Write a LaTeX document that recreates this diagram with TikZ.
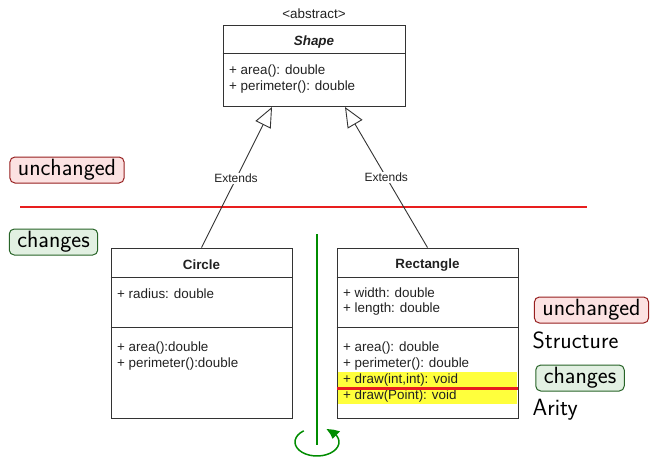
\documentclass[tikz,border=0pt]{standalone}
\usepackage{fontspec}
\setmainfont{Liberation Sans}
\usetikzlibrary{arrows.meta,bending}
\definecolor{umlline}{rgb}{0.2,0.2,0.2}
\definecolor{umltext}{rgb}{0.13,0.13,0.13}
\definecolor{tagRfill}{RGB}{252,226,226}
\definecolor{tagRdraw}{RGB}{150,30,30}
\definecolor{tagGfill}{RGB}{226,240,226}
\definecolor{tagGdraw}{RGB}{40,100,40}
\definecolor{hl}{RGB}{255,255,60}
\definecolor{redline}{RGB}{232,30,30}
\definecolor{grn}{RGB}{0,140,0}
\begin{document}
\begin{tikzpicture}[x=1pt,y=1pt,
  umlbox/.style={draw=umlline, line width=0.9pt, inner sep=0pt, fill=none},
  sep/.style={draw=umlline, line width=0.9pt},
  member/.style={anchor=west, inner sep=0pt, text=umltext, font=\fontsize{13.4}{16}\selectfont},
  title/.style={inner sep=0pt, text=umltext, font=\fontsize{13.4}{16}\selectfont\bfseries},
  ext/.style={draw=umlline, line width=0.9pt, -{Triangle[open, length=20pt, width=17pt]}},
  extlbl/.style={fill=white, inner sep=1pt, text=umltext, font=\fontsize{12}{14}\selectfont},
  tagR/.style={draw=tagRdraw, fill=tagRfill, line width=1pt, rounded corners=5pt, inner xsep=8pt, inner ysep=0pt, minimum height=26pt, font=\sffamily\fontsize{23.5}{26}\selectfont},
  tagG/.style={draw=tagGdraw, fill=tagGfill, line width=1pt, rounded corners=5pt, inner xsep=8pt, inner ysep=0pt, minimum height=26pt, font=\sffamily\fontsize{23.5}{26}\selectfont},
  plaintxt/.style={anchor=base west, inner sep=0pt, font=\sffamily\fontsize{23.5}{26}\selectfont},
  grnline/.style={draw=grn, line width=1.5pt}
]
\useasboundingbox (0,0) rectangle (651,-458);

% Red divider
\coordinate (d1) at (20,-207);
\coordinate (d2) at (587,-207);
\draw[draw=redline, line width=1.5pt] (d1) -- (d2);

% Shape class
\node[inner sep=0pt, text=umltext, font=\fontsize{13.4}{16}\selectfont] (abs) at (314,-14) {<abstract>};
\node[umlbox, minimum width=182pt, minimum height=81pt] (shape) at (314,-65.5) {};
\draw[sep] (shape.west |- 0,-53) -- (shape.east |- 0,-53);
\node[title, font=\fontsize{13.4}{16}\selectfont\bfseries\itshape] (shapet) at (314,-42) {Shape};
\node[member] (sm1) at (229,-71) {+ area(): double};
\node[member] (sm2) at (229,-87) {+ perimeter(): double};

% Rectangle highlight
\fill[hl] (337,-372) rectangle (517,-404);
\coordinate (r1) at (337,-388);
\coordinate (r2) at (518,-388);

% Circle class
\node[umlbox, minimum width=181pt, minimum height=170pt] (circle) at (201.5,-333) {};
\draw[sep] (circle.west |- 0,-277.5) -- (circle.east |- 0,-277.5);
\draw[sep] (circle.west |- 0,-327.5) -- (circle.east |- 0,-327.5);
\node[title] (circlet) at (201.5,-265) {Circle};
\node[member] (cm1) at (117,-294) {+ radius: double};
\node[member] (cm2) at (117,-348) {+ area():double};
\node[member] (cm3) at (117,-364) {+ perimeter():double};

% Rectangle class
\node[umlbox, minimum width=181pt, minimum height=170pt] (rect) at (427.5,-333) {};
\draw[sep] (rect.west |- 0,-277.5) -- (rect.east |- 0,-277.5);
\draw[sep] (rect.west |- 0,-327.5) -- (rect.east |- 0,-327.5);
\node[title] (rectt) at (427.5,-265) {Rectangle};
\node[member] (rm1) at (343,-293) {+ width: double};
\node[member] (rm2) at (343,-309) {+ length: double};
\node[member] (rm3) at (343,-348) {+ area(): double};
\node[member] (rm4) at (343,-364) {+ perimeter(): double};
\node[member] (rm5) at (343,-380) {+ draw(int,int): void};
\node[member] (rm6) at (343,-396) {+ draw(Point): void};
\draw[draw=redline, line width=3pt] (r1) -- (r2);

% Extends arrows
\coordinate (sL) at (272,-107);
\coordinate (sR) at (345,-107);
\draw[ext] (circle.north) -- node[extlbl, pos=0.49] (e1) {Extends} (sL);
\draw[ext] (rect.north) -- node[extlbl, pos=0.5] (e2) {Extends} (sR);

% Tags
\node[tagR] (u1) at (67,-170) {unchanged};
\node[tagG] (c1) at (53.5,-242) {changes};
\node[tagR] (u2) at (591.5,-310) {unchanged};
\node[plaintxt] (st) at (532.5,-348) {Structure};
\node[tagG] (c2) at (580,-378) {changes};
\node[plaintxt] (ar) at (532.5,-415.5) {Arity};

% Green axis with rotation arrow
\coordinate (g1) at (317,-234);
\coordinate (g2) at (317,-445);
\draw[grnline] (g1) -- (g2);
\coordinate (gc) at (317,-442);
\draw[grnline, -{Triangle[length=12pt, width=10pt, bend]}] ([shift={(127:22pt and 14pt)}]gc) arc[start angle=127, end angle=425, x radius=22pt, y radius=14pt];
\end{tikzpicture}
\end{document}
